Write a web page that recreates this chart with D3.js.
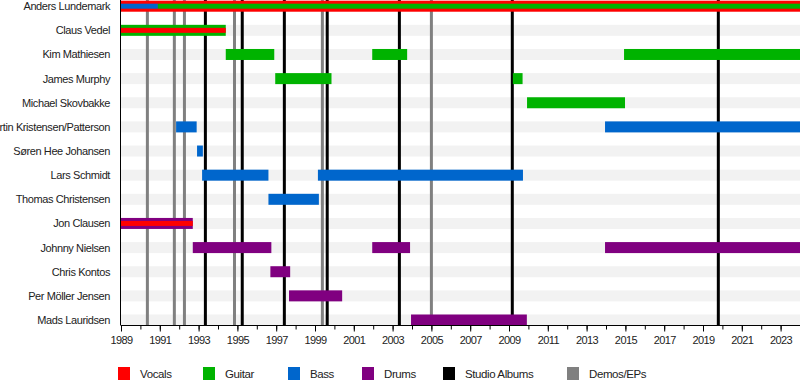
<!DOCTYPE html>
<html>
<head>
<title>Band Members Timeline</title>
<style>
body { margin: 0; background: #fff; font-family: "Liberation Sans", Arial, sans-serif; }
</style>
</head>
<body>
<div id="chart"></div>
<script src="https://d3js.org/d3.v7.min.js"></script>
<script>
const members = [
  "Anders Lundemark", "Claus Vedel", "Kim Mathiesen", "James Murphy",
  "Michael Skovbakke", "Martin Kristensen/Patterson", "Søren Hee Johansen",
  "Lars Schmidt", "Thomas Christensen", "Jon Clausen", "Johnny Nielsen",
  "Chris Kontos", "Per Möller Jensen", "Mads Lauridsen"
];

const roles = ["Vocals", "Guitar", "Bass", "Drums"];
const legendLabels = ["Vocals", "Guitar", "Bass", "Drums", "Studio Albums", "Demos/EPs"];

// primary role of each stint: [member, role, from, to]
const mainStints = [
  ["Anders Lundemark", "Vocals", 1989, 2024],
  ["Claus Vedel", "Guitar", 1989, 1994.4],
  ["Kim Mathiesen", "Guitar", 1994.4, 1996.9],
  ["Kim Mathiesen", "Guitar", 2001.95, 2003.75],
  ["Kim Mathiesen", "Guitar", 2014.93, 2024],
  ["James Murphy", "Guitar", 1996.95, 1999.85],
  ["James Murphy", "Guitar", 2009.2, 2009.7],
  ["Michael Skovbakke", "Guitar", 2009.93, 2014.98],
  ["Martin Kristensen/Patterson", "Bass", 1991.84, 1992.9],
  ["Martin Kristensen/Patterson", "Bass", 2013.95, 2024],
  ["Søren Hee Johansen", "Bass", 1992.92, 1993.22],
  ["Lars Schmidt", "Bass", 1993.18, 1996.6],
  ["Lars Schmidt", "Bass", 1999.15, 2009.72],
  ["Thomas Christensen", "Bass", 1996.6, 1999.2],
  ["Jon Clausen", "Drums", 1989, 1992.7],
  ["Johnny Nielsen", "Drums", 1992.7, 1996.75],
  ["Johnny Nielsen", "Drums", 2001.95, 2003.9],
  ["Johnny Nielsen", "Drums", 2013.95, 2024],
  ["Chris Kontos", "Drums", 1996.7, 1997.72],
  ["Per Möller Jensen", "Drums", 1997.66, 2000.4],
  ["Mads Lauridsen", "Drums", 2003.95, 2009.92]
];

// secondary roles, drawn as a thinner bar inside the main one
const sideStints = [
  ["Anders Lundemark", "Bass", 1989, 1990.9],
  ["Anders Lundemark", "Guitar", 1990.9, 2024],
  ["Claus Vedel", "Vocals", 1989, 1994.4],
  ["Jon Clausen", "Vocals", 1989, 1992.7]
];

const studioAlbums = [1993.35, 1995.25, 1997.42, 1999.63, 2003.35, 2009.17, 2019.79];
const demos = [1990.36, 1991.75, 1992.27, 1994.85, 1999.38, 2005.0];

const yearLabels = d3.range(1989, 2024, 2);
const yearTicks = d3.range(1989, 2025, 1);

const width = 800, height = 385;
const left = 121, right = 800, axisY = 325.5;
const barH = 11, innerH = 5;

const svg = d3.select("#chart").append("svg")
  .attr("width", width)
  .attr("height", height);

const x = d3.scaleLinear().domain([1989, 2024]).range([left, right]);
const y = d3.scalePoint().domain(members).range([6.2, 320]);
const color = d3.scaleOrdinal()
  .domain(legendLabels)
  .range(["#ff0000", "#00b300", "#0066cc", "#800080", "#000000", "#808080"]);

// row stripes
svg.append("g").selectAll("rect")
  .data(members)
  .join("rect")
    .attr("x", left)
    .attr("y", d => y(d) - barH / 2)
    .attr("width", right - left)
    .attr("height", barH)
    .attr("fill", "#f2f2f2");

// release lines
svg.append("g").selectAll("line")
  .data(demos.map(d => ["Demos/EPs", d]).concat(studioAlbums.map(d => ["Studio Albums", d])))
  .join("line")
    .attr("x1", d => x(d[1]))
    .attr("x2", d => x(d[1]))
    .attr("y1", 0)
    .attr("y2", axisY)
    .attr("stroke", d => color(d[0]))
    .attr("stroke-width", 3);

// main bars
svg.append("g").selectAll("rect")
  .data(mainStints)
  .join("rect")
    .attr("x", d => x(d[2]))
    .attr("y", d => y(d[0]) - barH / 2)
    .attr("width", d => x(d[3]) - x(d[2]))
    .attr("height", barH)
    .attr("fill", d => color(d[1]));

// secondary bars
svg.append("g").selectAll("rect")
  .data(sideStints)
  .join("rect")
    .attr("x", d => x(d[2]))
    .attr("y", d => y(d[0]) - innerH / 2)
    .attr("width", d => x(d[3]) - x(d[2]))
    .attr("height", innerH)
    .attr("fill", d => color(d[1]));

// member names
svg.append("g").selectAll("text")
  .data(members)
  .join("text")
    .attr("x", 110)
    .attr("y", d => y(d) + 4)
    .attr("text-anchor", "end")
    .attr("font-size", 11)
    .attr("letter-spacing", -0.4)
    .attr("fill", "#222")
    .text(d => d);

// left axis line
svg.append("line")
  .attr("x1", left - 0.5).attr("x2", left - 0.5)
  .attr("y1", 0).attr("y2", axisY)
  .attr("stroke", "#000");

// bottom axis
svg.append("g")
  .attr("transform", `translate(0,${axisY})`)
  .call(d3.axisBottom(x).tickValues(yearTicks).tickSize(4).tickFormat(""))
  .call(g => g.select(".domain").remove());

const xAxis = svg.append("g")
  .attr("transform", `translate(0,${axisY})`)
  .call(d3.axisBottom(x).tickValues(yearLabels).tickSize(6).tickSizeOuter(0).tickFormat(d3.format("d")));
xAxis.selectAll("text")
  .attr("font-size", 11)
  .attr("font-family", "Liberation Sans, Arial, sans-serif")
  .attr("letter-spacing", -0.6)
  .attr("fill", "#222")
  .attr("dy", "0.85em");
xAxis.select(".domain").attr("d", `M${left},0H${right}`);

// legend
const legendX = [118, 203, 288, 362, 443, 567];
const legend = svg.append("g").selectAll("g")
  .data(legendLabels)
  .join("g")
    .attr("transform", (d, i) => `translate(${legendX[i]},367)`);
legend.append("rect")
  .attr("width", 12).attr("height", 13)
  .attr("fill", d => color(d));
legend.append("text")
  .attr("x", 22).attr("y", 11)
  .attr("font-size", 11.5)
  .attr("letter-spacing", -0.4)
  .attr("fill", "#222")
  .text(d => d);
</script>
</body>
</html>
